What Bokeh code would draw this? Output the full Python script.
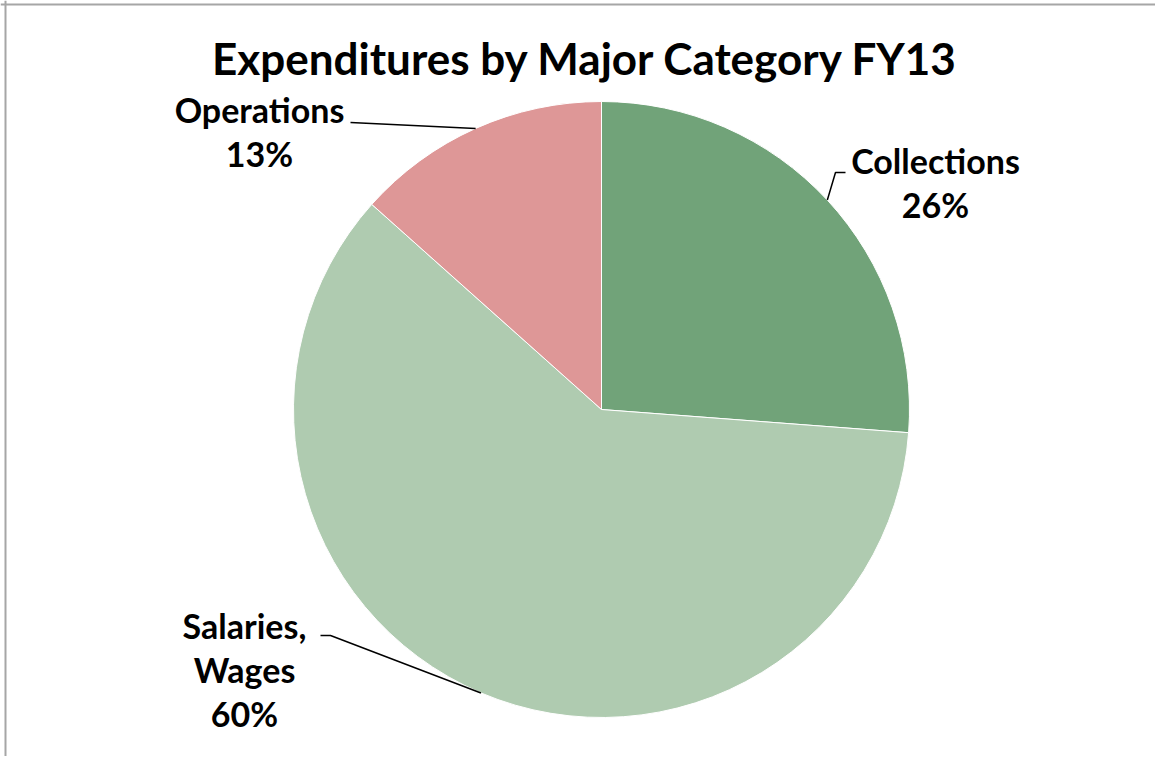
import math
from bokeh.plotting import figure
from bokeh.models import Range1d, Span, ColumnDataSource
from bokeh.core.properties import value
from bokeh.embed import file_html
from bokeh.resources import INLINE

# ---- data ----
categories = ["Collections", "Salaries, Wages", "Operations"]
shares = [26.2, 60.4, 13.4]
colors = ["#71A379", "#AFCBB0", "#DE9797"]
title_text = "Expenditures by Major Category FY13"

# ---- layout (figure pixel coordinates; data y = -pixel y) ----
W, H = 1155, 756
CX, CY, R = 601, -409, 308
FONT = "Lato"
DY = 12  # baseline correction for text glyphs

p = figure(width=W, height=H, output_backend="svg", toolbar_location=None,
           x_range=Range1d(0, W), y_range=Range1d(-H, 0),
           min_border=0, outline_line_color=None)
p.axis.visible = False
p.grid.visible = False
p.background_fill_color = "white"
p.border_fill_color = "white"

# wedges, clockwise from 12 o'clock
total = sum(shares)
starts, ends, mids = [], [], []
cum = 0.0
for s in shares:
    a0 = math.pi / 2 - 2 * math.pi * cum / total
    cum += s
    a1 = math.pi / 2 - 2 * math.pi * cum / total
    starts.append(a0)
    ends.append(a1)
    mids.append((a0 + a1) / 2)

src = ColumnDataSource(dict(start=starts, end=ends, color=colors))
p.wedge(x=CX, y=CY, radius=R, start_angle="start", end_angle="end",
        direction="clock", fill_color="color", line_color="white",
        line_width=1, source=src)

# leader lines: label-side points (layout) + pie-edge point from slice mid-angle
label_side = [
    [(845, -172), (835, -172)],   # Collections
    [(320, -635), (330, -635)],   # Salaries
    [(350, -122)],                # Operations
]
xs, ys = [], []
for pts, m in zip(label_side, mids):
    ex = CX + R * math.cos(m)
    ey = CY + R * math.sin(m)
    xs.append([q[0] for q in pts] + [ex])
    ys.append([q[1] for q in pts] + [ey])
p.multi_line(xs=xs, ys=ys, line_color="black", line_width=1.5)

# data labels
anchors = [(935, -172), (244, -637), (259, -121)]
name_lines = [["Collections"], ["Salaries,", "Wages"], ["Operations"]]
LINE = 44
tx, ty, tt = [], [], []
for (ax, ay), names, s in zip(anchors, name_lines, shares):
    lines = names + [f"{round(s / total * 100)}%"]
    for i, t in enumerate(lines):
        tx.append(ax)
        ty.append(ay - i * LINE + DY)
        tt.append(t)
p.text(x=tx, y=ty, text=tt, text_font=value(FONT), text_font_style="bold",
       text_font_size="34px", text_align="center", text_baseline="alphabetic",
       text_color="black")

# title
p.text(x=[585], y=[-69 + DY], text=[title_text], text_font=value(FONT),
       text_font_style="bold", text_font_size="44px", text_align="center",
       text_baseline="alphabetic", text_color="black")

# chart-area border (left and top visible)
p.add_layout(Span(location=5, dimension="height", line_color="#A6A6A6", line_width=2))
p.add_layout(Span(location=-4, dimension="width", line_color="#A6A6A6", line_width=2))

open("out.html", "w").write(file_html(p, INLINE))
